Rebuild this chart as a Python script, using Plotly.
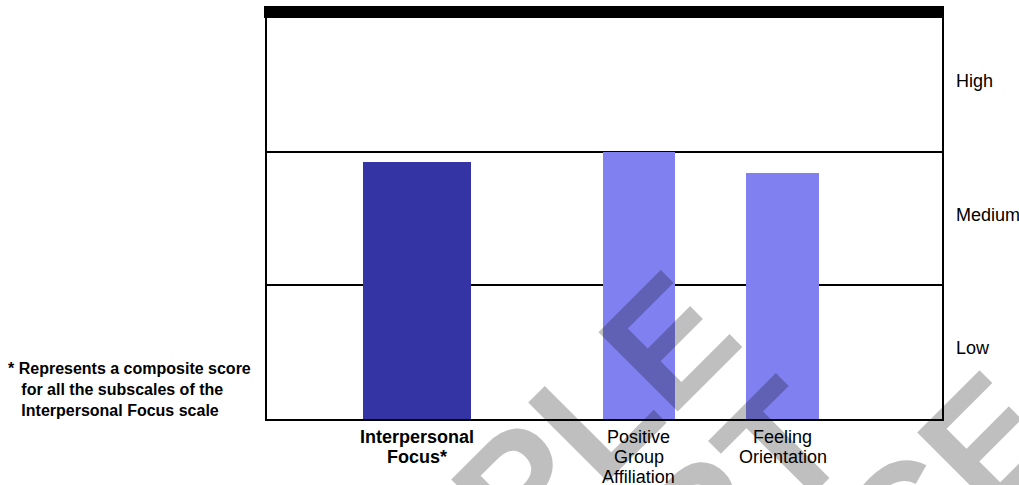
import math
import plotly.graph_objects as go

# ---------------- data ----------------
categories = ["Interpersonal\nFocus*", "Positive\nGroup\nAffiliation", "Feeling\nOrientation"]
scores = [1.92, 2.00, 1.84]          # 0-1 Low, 1-2 Medium, 2-3 High
level_labels = ["Low", "Medium", "High"]
footnote_lines = ["* Represents a composite score",
                  "for all the subscales of the",
                  "Interpersonal Focus scale"]
watermark_lines = ["SAMPLE", "REPORT", "PRACTICE"]

# ---------------- layout constants ----------------
W, H = 1019, 485
ML, MR, MT, MB = 267, 77, 18, 66
PW, PH = W - ML - MR, H - MT - MB
bar_centers = [0.2222, 0.5511, 0.7637]
bar_widths = [0.160, 0.1067, 0.1081]
bar_colors = ["#3434A4", "#8080F0", "#8080F0"]
FONT = "Liberation Sans, Arial, sans-serif"

fig = go.Figure()
fig.add_trace(go.Bar(
    x=bar_centers, y=scores, width=bar_widths,
    marker=dict(color=bar_colors, line=dict(width=0)),
    hoverinfo="skip", showlegend=False,
))

annotations = []

# category labels, one annotation per line for tight line spacing
for i, (cat, cx) in enumerate(zip(categories, bar_centers)):
    for j, line in enumerate(cat.split("\n")):
        annotations.append(dict(
            x=cx, xref="x", y=0, yref="paper", yanchor="middle", xanchor="center",
            yshift=-(18 + 20 * j), showarrow=False,
            text=line,
            font=dict(family=FONT, size=18, color="black",
                      weight="bold" if i == 0 else "normal"),
        ))

# level labels on the right
for k, lab in enumerate(level_labels):
    annotations.append(dict(
        x=(954 - ML) / PW, xref="paper", xanchor="left",
        y=k + 0.5, yref="y", yanchor="middle", yshift=4,
        showarrow=False, text=lab,
        font=dict(family=FONT, size=18, color="black"),
    ))

# footnote
nb = "\u00a0" * 3
fn_text = footnote_lines[0] + "<br>" + "<br>".join(nb + l for l in footnote_lines[1:])
annotations.append(dict(
    x=(6 - ML) / PW, xref="paper", xanchor="left", align="left",
    y=(MT + PH - 389) / PH, yref="paper", yanchor="middle",
    showarrow=False, text=fn_text,
    font=dict(family=FONT, size=16, color="black", weight="bold"),
))

# watermark (rotated, semi-transparent)
em = {"S": .667, "A": .722, "M": .833, "P": .667, "L": .611, "E": .667,
      "R": .722, "O": .778, "T": .611, "C": .722, "I": .278}
wm_fs = 163
u0 = -393
cap_tops = [655, 810, 952]
s2 = math.sqrt(2)
for word, vt in zip(watermark_lines, cap_tops):
    wpx = sum(em[c] for c in word) * wm_fs
    u = u0 + wpx / 2
    v = vt + 0.358 * wm_fs
    px = (u + v) / s2
    py = (v - u) / s2
    annotations.append(dict(
        x=(px - ML) / PW, xref="paper", y=(MT + PH - py) / PH, yref="paper",
        xanchor="center", yanchor="middle", showarrow=False, textangle=-45,
        text=word,
        font=dict(family=FONT, size=wm_fs, color="rgba(0,0,0,0.25)", weight="bold"),
    ))

fig.update_layout(
    width=W, height=H,
    margin=dict(l=ML, r=MR, t=MT, b=MB, pad=0),
    paper_bgcolor="white", plot_bgcolor="white",
    showlegend=False,
    bargap=0,
    xaxis=dict(range=[0, 1], showticklabels=False, showgrid=False, zeroline=False,
               showline=True, linecolor="black", linewidth=2, mirror=True, ticks="",
               fixedrange=True),
    yaxis=dict(range=[0, 3], tickvals=[1, 2], showticklabels=False, showgrid=True,
               gridcolor="black", gridwidth=2, zeroline=False,
               showline=True, linecolor="black", linewidth=2, mirror=True, ticks="",
               fixedrange=True),
    annotations=annotations,
    shapes=[dict(type="rect", xref="paper", yref="paper",
                 x0=-3 / PW, x1=1 + 2 / PW, y0=1, y1=1 + 12 / PH,
                 fillcolor="black", line=dict(width=0), layer="above")],
)

fig.write_html("out.html", config={"displayModeBar": False})
